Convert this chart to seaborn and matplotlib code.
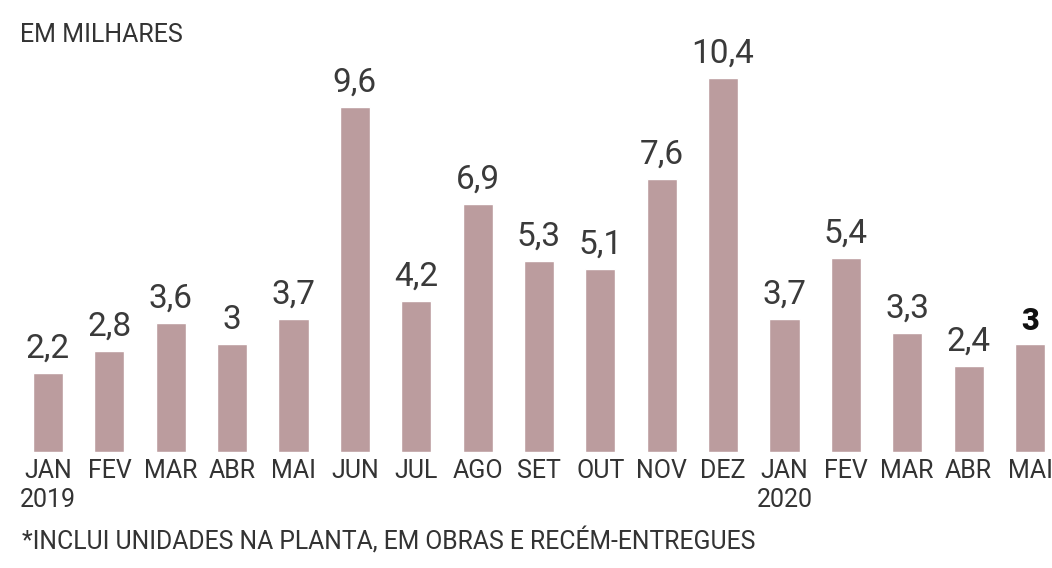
import matplotlib
matplotlib.use("Agg")
import matplotlib.pyplot as plt
import seaborn as sns
import pandas as pd

periods = ["2019-01", "2019-02", "2019-03", "2019-04", "2019-05", "2019-06", "2019-07",
           "2019-08", "2019-09", "2019-10", "2019-11", "2019-12", "2020-01", "2020-02",
           "2020-03", "2020-04", "2020-05"]
tick_labels = ["JAN\n2019", "FEV", "MAR", "ABR", "MAI", "JUN", "JUL", "AGO", "SET", "OUT",
               "NOV", "DEZ", "JAN\n2020", "FEV", "MAR", "ABR", "MAI"]
values = [2.2, 2.8, 3.6, 3.0, 3.7, 9.6, 4.2, 6.9, 5.3, 5.1, 7.6, 10.4, 3.7, 5.4, 3.3, 2.4, 3.0]
value_labels = ["2,2", "2,8", "3,6", "3", "3,7", "9,6", "4,2", "6,9", "5,3", "5,1", "7,6",
                "10,4", "3,7", "5,4", "3,3", "2,4", "3"]

sns.set_theme(style="white")
plt.rcParams["font.family"] = ["Roboto", "DejaVu Sans"]

df = pd.DataFrame({"periodo": periods, "valor": values})

W, H = 1052, 568
fig = plt.figure(figsize=(W / 100, H / 100), dpi=100)
ax = fig.add_axes([0, 1 - 452 / H, 1, 452 / H])

bar_color = "#bb9c9e"
sns.barplot(data=df, x="periodo", y="valor", order=periods, color=bar_color,
            width=0.49, saturation=1, ax=ax)

step = (1030 - 48) / 16
ax.set_xlim(-48 / step, 16 + (W - 1030) / step)
ppu = (452 - 78) / 10.4
ax.set_ylim(0, 452 / ppu)

ax.set_xticks(range(len(periods)))
ax.set_xticklabels(tick_labels, fontsize=18, color="#333333", linespacing=1.25)
ax.tick_params(axis="x", length=0, pad=5)
ax.set_yticks([])
ax.set_xlabel("")
ax.set_ylabel("")
for s in ax.spines.values():
    s.set_visible(False)

for i, (v, lab) in enumerate(zip(values, value_labels)):
    last = i == len(values) - 1
    ax.annotate(lab, (i, v), xytext=(0, 6), textcoords="offset points",
                ha="center", va="bottom",
                fontsize=22 if last else 24,
                fontweight="black" if last else "normal",
                color="#111111" if last else "#3a3a3a")

fig.text(20 / W, 1 - 35 / H, "EM MILHARES", fontsize=18, color="#333333",
         ha="left", va="center")
fig.text(22 / W, 1 - 541 / H, "*INCLUI UNIDADES NA PLANTA, EM OBRAS E RECÉM-ENTREGUES",
         fontsize=17.8, color="#333333", ha="left", va="center")

fig.savefig("out.png", dpi=100)
